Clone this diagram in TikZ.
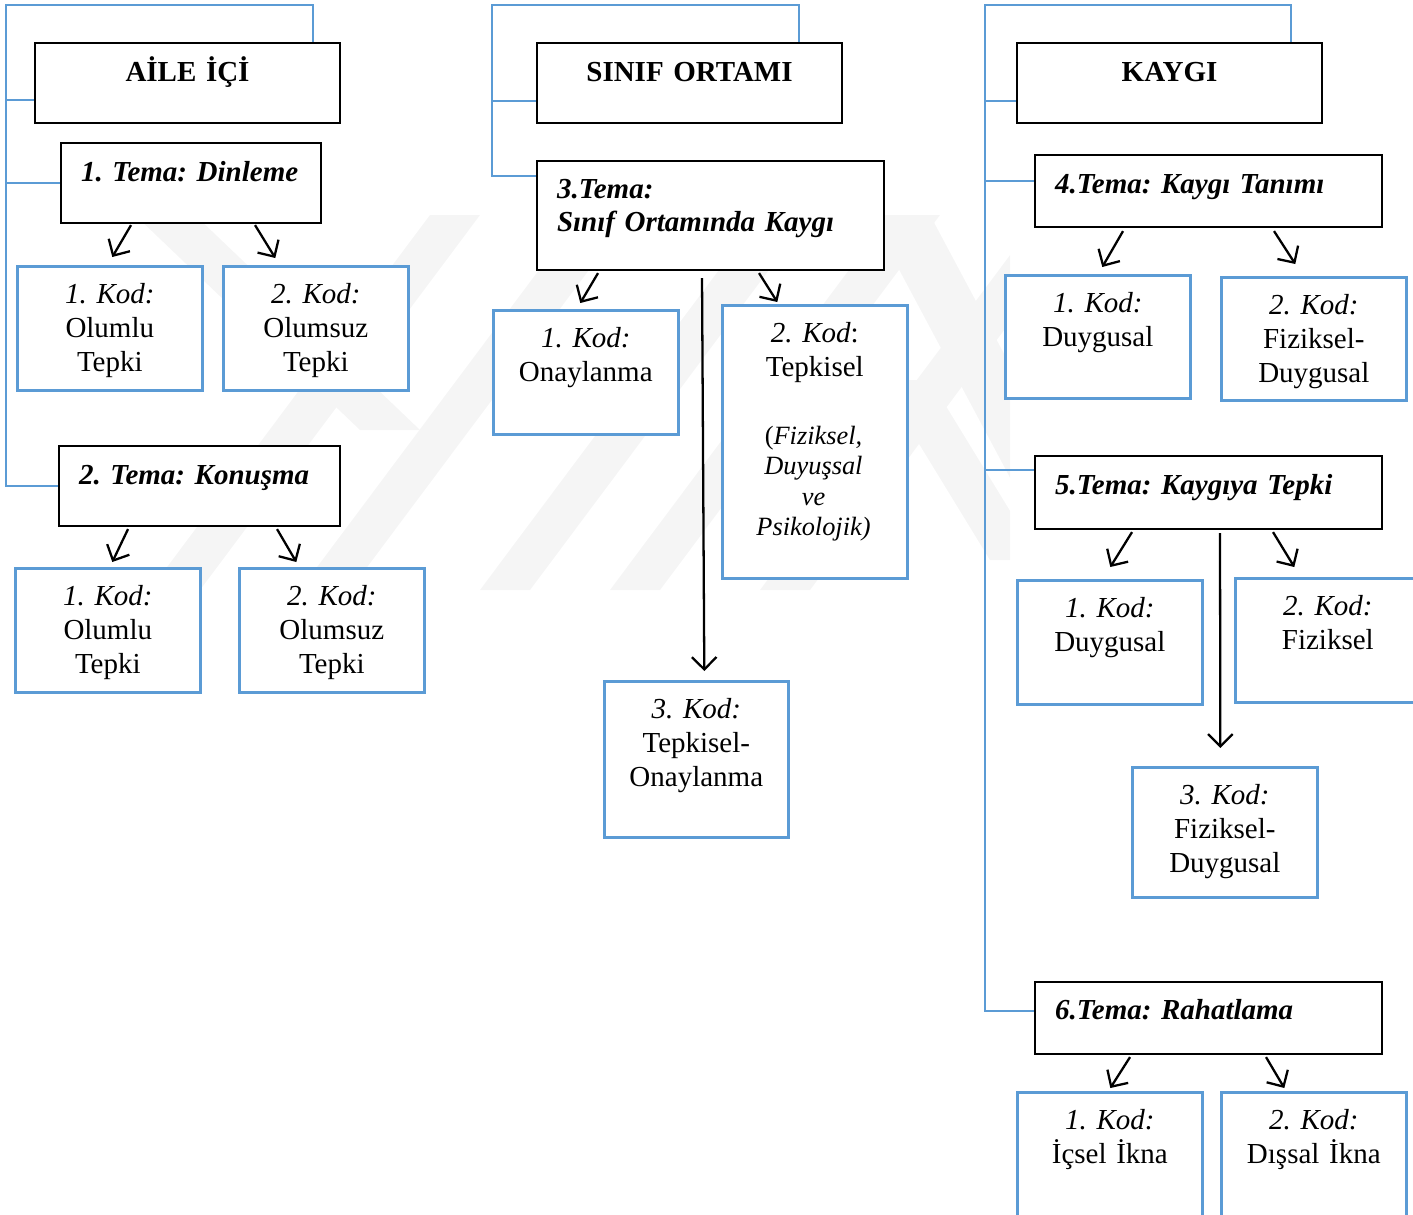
\documentclass[tikz,border=0pt]{standalone}
\usepackage{fontspec}
\setmainfont{Liberation Serif}
\usetikzlibrary{arrows.meta,calc}
\definecolor{kodblue}{RGB}{91,155,213}
\newcommand{\anafont}{\fontsize{16.5}{19.3}\selectfont\bfseries\frenchspacing}
\newcommand{\temafont}{\fontsize{16.5}{19.3}\selectfont\bfseries\itshape\frenchspacing}
\newcommand{\kodfont}{\fontsize{16.5}{19.3}\selectfont\frenchspacing}
\newcommand{\notfont}{\fontsize{15}{17.35}\selectfont\itshape\frenchspacing}

\begin{document}
\begin{tikzpicture}[x=0.02cm, y=-0.02cm,
  ana/.style={draw=black, line width=1.2pt, fill=white, inner xsep=0.2cm, inner ysep=0pt, align=center, font=\anafont, text width=5.7cm, text height=0.76cm, text depth=0.84cm, anchor=north west},
  tema/.style={draw=black, line width=1.2pt, fill=white, inner xsep=0.4cm, inner ysep=0pt, align=left, font=\temafont, text height=0.76cm, anchor=north west},
  kod/.style={draw=kodblue, line width=1.5pt, fill=white, inner xsep=0.1cm, inner ysep=0pt, align=center, font=\kodfont, text width=3.5cm, text height=0.75cm, anchor=north west},
  kol/.style={draw=kodblue, line width=0.8pt},
  ok/.style={-{Straight Barb[length=7pt,width=14pt]}, line width=1.3pt},
  wm/.style={fill=gray!8}]
\useasboundingbox (0,0) rectangle (1413,1214);

\begin{scope}
\clip (130,215) rectangle (1010,590);
\foreach \x in {150,300,480,610,760}
  \fill[wm] (\x,590) -- ++(50,0) -- ++(280,-375) -- ++(-50,0) -- cycle;
\fill[wm] (135,215) -- (195,215) -- (420,430) -- (360,430) -- cycle;
\fill[wm] (870,215) -- (930,215) -- (1130,590) -- (1070,590) -- cycle;
\fill[wm] (880,380) -- (930,380) -- (1040,560) -- (990,560) -- cycle;
\end{scope}

\coordinate (aile) at (6,5);
\coordinate (sinif) at (492,5);
\coordinate (kaygi) at (985,5);
\draw[kol] (aile) rectangle (313,100);
\draw[kol] (sinif) rectangle (799,101);
\draw[kol] (kaygi) rectangle (1291,101);

\node[ana] (h1) at (34,42) {AİLE İÇİ};
\node[ana] (h2) at (536,42) {SINIF ORTAMI};
\node[ana] (h3) at (1016,42) {KAYGI};

\node[tema, text width=4.4cm, text depth=0.84cm] (t1) at (60,142) {\mbox{1. Tema: Dinleme}};
\node[tema, text width=4.82cm, text depth=0.84cm] (t2) at (58,445) {\mbox{2. Tema: Konuşma}};
\node[tema, text width=6.14cm, text height=0.74cm, text depth=1.44cm] (t3) at (536,160) {3.Tema:\\Sınıf Ortamında Kaygı};
\node[tema, text width=6.14cm, text depth=0.68cm] (t4) at (1034,154) {4.Tema: Kaygı Tanımı};
\node[tema, text width=6.14cm, text depth=0.70cm] (t5) at (1034,455) {5.Tema: Kaygıya Tepki};
\node[tema, text width=6.14cm, text height=0.75cm, text depth=0.69cm] (t6) at (1034,981) {6.Tema: Rahatlama};

\node[kod, text depth=1.73cm] (k1) at (16,265) {\textit{1. Kod:}\\Olumlu\\Tepki};
\node[kod, text depth=1.73cm] (k2) at (222,265) {\textit{2. Kod:}\\Olumsuz\\Tepki};
\node[kod, text depth=1.73cm] (k3) at (14,567) {\textit{1. Kod:}\\Olumlu\\Tepki};
\node[kod, text depth=1.73cm] (k4) at (238,567) {\textit{2. Kod:}\\Olumsuz\\Tepki};
\node[kod, text depth=1.73cm] (k5) at (492,309) {\textit{1. Kod:}\\Onaylanma};
\node[kod, text depth=4.71cm] (k6) at (721,304) {\textit{2. Kod}:\\Tepkisel};
\node[font=\notfont, align=center, text width=3.4cm, inner sep=0pt, anchor=north, text height=0pt] (k6not) at (813.5,444) {\textup{(}Fiziksel,\\Duyuşsal\\ve\\Psikolojik)};
\node[kod, text width=3.48cm, text depth=2.37cm] (k7) at (603,680) {\textit{3. Kod:}\\Tepkisel-\\Onaylanma};
\node[kod, text depth=1.71cm] (k8) at (1004,274) {\textit{1. Kod:}\\Duygusal};
\node[kod, text depth=1.71cm] (k9) at (1220,276) {\textit{2. Kod:}\\Fiziksel-\\Duygusal};
\node[kod, text depth=1.73cm] (k10) at (1016,579) {\textit{1. Kod:}\\Duygusal};
\node[kod, text depth=1.73cm] (k11) at (1234,577) {\textit{2. Kod:}\\Fiziksel};
\node[kod, text depth=1.85cm] (k12) at (1131,766) {\textit{3. Kod:}\\Fiziksel-\\Duygusal};
\node[kod, text depth=2.05cm] (k13) at (1016,1091) {\textit{1. Kod:}\\İçsel İkna};
\node[kod, text depth=2.05cm] (k14) at (1220,1091) {\textit{2. Kod:}\\Dışsal İkna};

\draw[kol] (h1.west |- 0,100) -| (aile) -| (h1.north -| 313,0);
\draw[kol] (h2.west |- 0,101) -| (sinif) -| (h2.north -| 799,0);
\draw[kol] (h3.west |- 0,101) -| (kaygi) -| (h3.north -| 1291,0);
\draw[kol] (aile) |- (t1.west);
\draw[kol] (aile) |- (t2.west);
\draw[kol] (sinif) |- ([yshift=0.79cm]t3.west);
\draw[kol] (kaygi) |- ([yshift=0.2cm]t4.west);
\draw[kol] (kaygi) |- ([yshift=0.45cm]t5.west);
\draw[kol] (kaygi) |- ([yshift=0.14cm]t6.west);

\draw[ok] ($(t1.south)+(-60,1)$) -- ($(k1.north)+(2.5,-8)$);
\draw[ok] ($(t1.south)+(64,1)$) -- ($(k2.north)+(-40.5,-7)$);
\draw[ok] ($(t2.south)+(-71.5,2)$) -- ($(k3.north)+(4.5,-5)$);
\draw[ok] ($(t2.south)+(77.5,2)$) -- ($(k4.north)+(-35.5,-5)$);
\draw[ok] ($(t3.south)+(-112.5,2)$) -- ($(k5.north)+(-5.5,-6)$);
\draw[ok] ($(t3.south)+(48.5,2)$) -- ($(k6.north)+(-37.5,-2)$);
\draw[ok] ($(t3.south)+(-8.5,7)$) -- ($(k7.north)+(8,-9)$);
\draw[ok] ($(t4.south)+(-85.5,3)$) -- ($(k8.north)+(4.5,-7)$);
\draw[ok] ($(t4.south)+(65.5,3)$) -- ($(k9.north)+(-18.5,-12)$);
\draw[ok] ($(t5.south)+(-76.5,2)$) -- ($(k10.north)+(0.5,-12)$);
\draw[ok] ($(t5.south)+(64.5,2)$) -- ($(k11.north)+(-33.5,-10)$);
\draw[ok] ($(t5.south)+(11.5,3)$) -- ($(k12.north)+(-4.5,-18)$);
\draw[ok] ($(t6.south)+(-78.5,2)$) -- ($(k13.north)+(0.5,-3)$);
\draw[ok] ($(t6.south)+(57.5,2)$) -- ($(k14.north)+(-29.5,-3)$);
\end{tikzpicture}
\end{document}
